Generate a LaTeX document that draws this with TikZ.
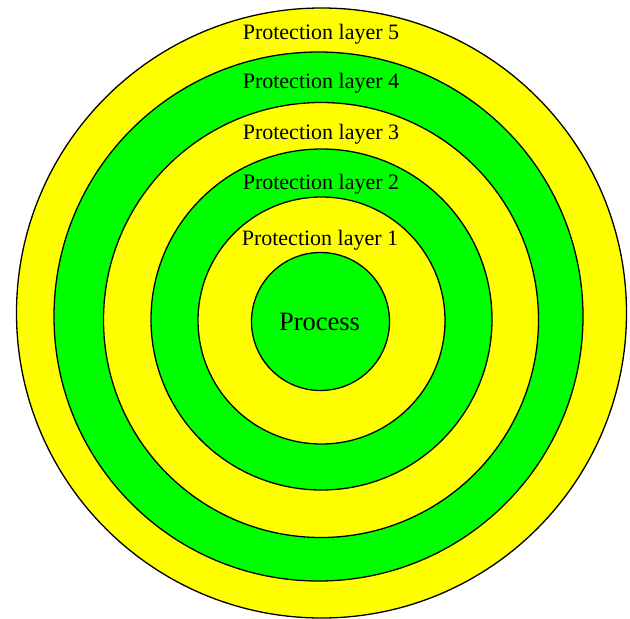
\documentclass[tikz,border=0pt]{standalone}
\usepackage{fontspec}
\setmainfont{Liberation Serif}
\definecolor{ylw}{HTML}{FFFF00}
\definecolor{grn}{HTML}{00FF00}
\begin{document}
\begin{tikzpicture}[x=1pt,y=-1pt,
  ring/.style={draw=black,line width=1.3pt},
  lbl/.style={anchor=base,inner sep=0pt,font=\fontsize{22}{24}\selectfont},
  plbl/.style={anchor=base,inner sep=0pt,font=\fontsize{26.5}{30}\selectfont}]
\useasboundingbox (0,0) rectangle (630,619);
\filldraw[ring,fill=ylw] (321.5,313) circle (305);
\filldraw[ring,fill=grn] (318.5,316.5) circle (264.5);
\filldraw[ring,fill=ylw] (321,320) circle (217.5);
\filldraw[ring,fill=grn] (321.5,319.5) circle (170.5);
\filldraw[ring,fill=ylw] (321.5,320.5) circle (123.5);
\filldraw[ring,fill=grn] (320.5,321.5) circle (69);
\node[lbl] (l5) at (321,39.5) {Protection layer 5};
\node[lbl] (l4) at (321,88.5) {Protection layer 4};
\node[lbl] (l3) at (321,139.5) {Protection layer 3};
\node[lbl] (l2) at (321,189) {Protection layer 2};
\node[lbl] (l1) at (320,245) {Protection layer 1};
\node[plbl] (p) at (319.5,330) {Process};
\end{tikzpicture}
\end{document}
